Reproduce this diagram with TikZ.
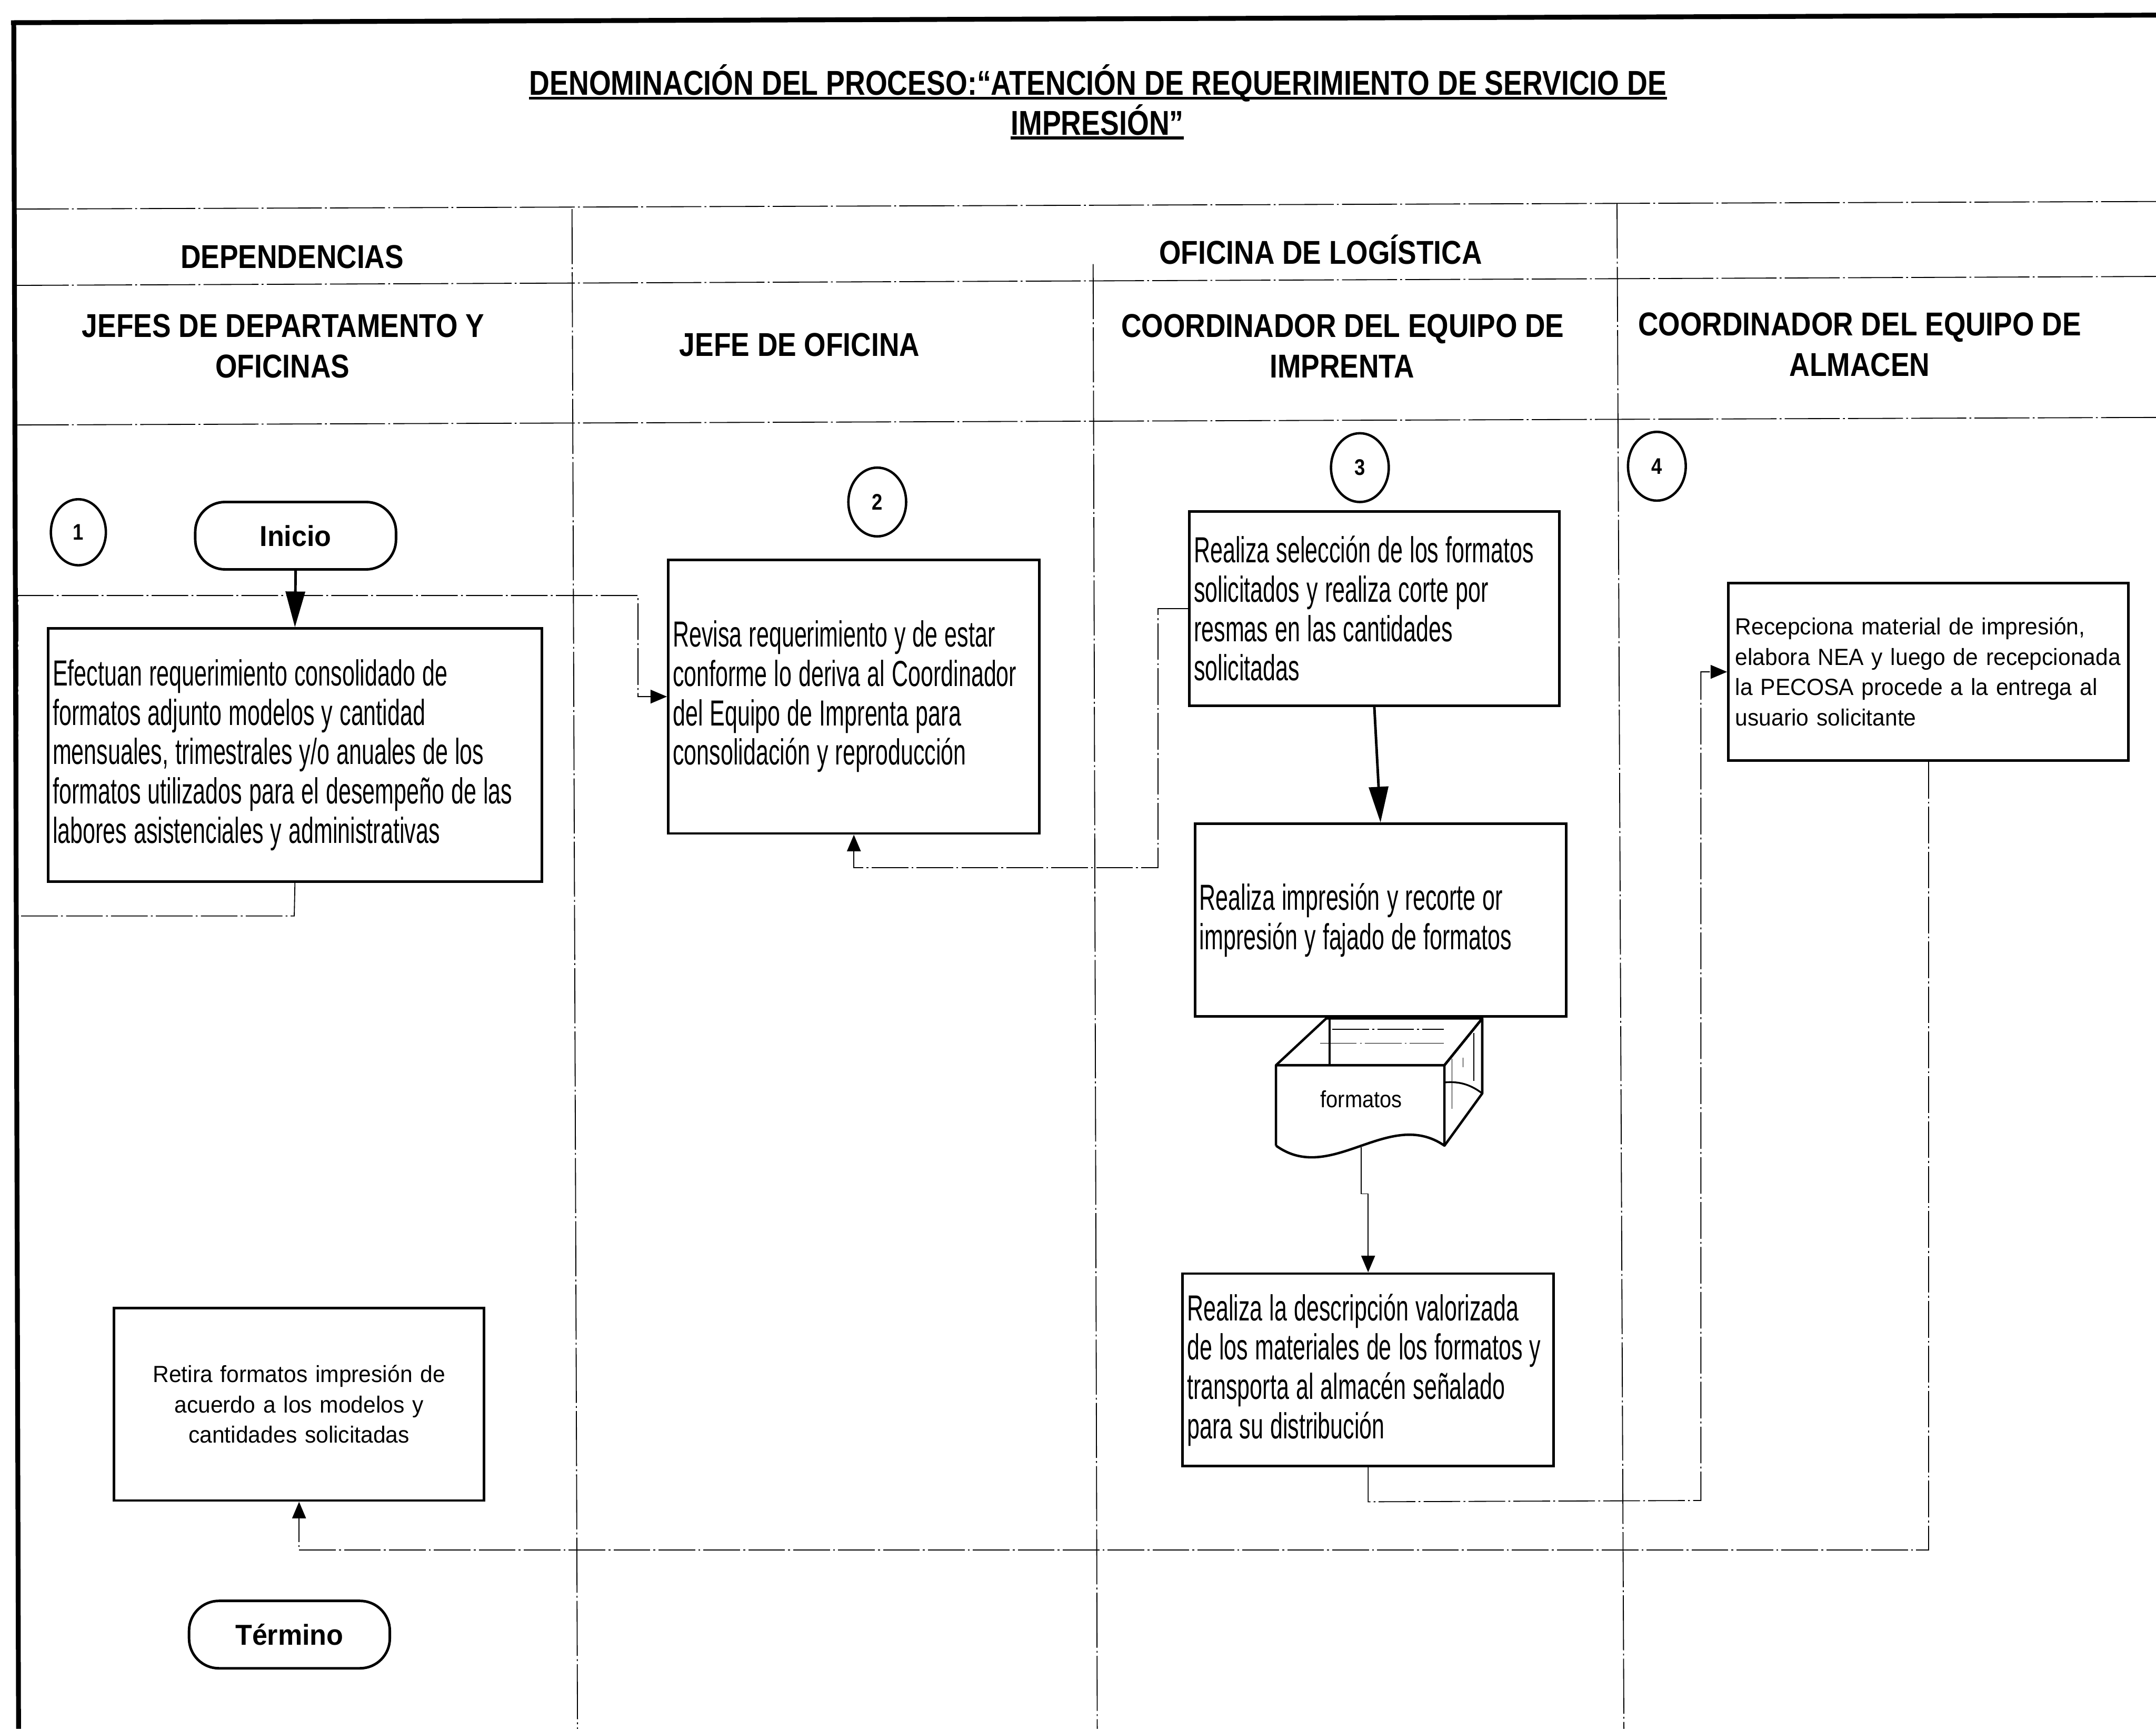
\documentclass[tikz,border=0pt]{standalone}
\usepackage{fontspec}
\setmainfont{Liberation Sans}
\newfontfamily\bodyfont{Liberation Sans}[FakeStretch=0.625]
\newfontfamily\hdrfont{Liberation Sans}[FakeStretch=0.85]
\newfontfamily\ttlfont{Liberation Sans}[FakeStretch=0.82]
\newfontfamily\termfont{Liberation Sans}[FakeStretch=0.95]
\newfontfamily\smallfont{Liberation Sans}[FakeStretch=0.96]
\newfontfamily\docfont{Liberation Sans}[FakeStretch=0.9]
\usetikzlibrary{arrows.meta,shapes.geometric}

\begin{document}
\begin{tikzpicture}[x=0.3mm,y=-0.3mm,
  lane/.style={line width=0.6pt,dash pattern=on 12mm off 0.7mm on 0.4mm off 0.7mm},
  conn/.style={line width=0.6pt,dash pattern=on 8mm off 0.7mm on 0.4mm off 0.7mm},
  thinarrow/.style={conn,-{Triangle[length=3.6mm,width=3mm]}},
  thickarrow/.style={line width=1.6pt,-{Triangle[length=7.8mm,width=4.2mm]}},
  proc/.style={draw,line width=1.6pt,fill=white,inner xsep=1mm,inner ysep=0pt,
    align=left,font=\bodyfont\fontsize{22.5}{24.4}\selectfont,
    execute at begin node={\hyphenpenalty=10000\exhyphenpenalty=10000\spaceskip=4.3pt plus 0.5pt minus 0.5pt\relax}},
  procsmall/.style={draw,line width=1.6pt,fill=white,inner xsep=1.5mm,inner ysep=0pt,
    align=left,font=\smallfont\fontsize{14.5}{18.8}\selectfont,
    execute at begin node={\hyphenpenalty=10000\exhyphenpenalty=10000}},
  hdr/.style={anchor=base,inner sep=0pt,font=\hdrfont\bfseries\fontsize{20.5}{24}\selectfont},
  ttl/.style={anchor=base,inner sep=0pt,font=\ttlfont\bfseries\fontsize{21.4}{25}\selectfont},
  terminal/.style={draw,line width=1.6pt,rounded corners=6.5mm,minimum width=43.8mm,
    minimum height=14.7mm,inner sep=0pt,font=\termfont\bfseries\fontsize{17.9}{20}\selectfont},
  stepnum/.style={draw,ellipse,line width=1.5pt,inner sep=0pt,minimum width=12.6mm,
    minimum height=15mm,font=\hdrfont\bfseries\fontsize{14}{16}\selectfont}
]
% page
\fill[white] (0,0) rectangle (1568,1257);
\useasboundingbox (0,0) rectangle (1568,1257);

% outer frame
\draw[line width=3pt] (8,16.5) -- (1568,11);
\draw[line width=3pt] (10,15) -- (13.5,1257);

% title
\node[ttl] (t1) at (798.5,69) {DENOMINACIÓN DEL PROCESO:“ATENCIÓN DE REQUERIMIENTO DE SERVICIO DE};
\node[ttl] (t2) at (798,98) {IMPRESIÓN”};
\draw[line width=1.8pt] ([yshift=-2pt]t1.base west) -- ([yshift=-2pt]t1.base east);
\draw[line width=1.8pt] ([yshift=-2pt]t2.base west) -- ([yshift=-2pt]t2.base east);

% swimlane grid
\draw[lane] (10,152) -- (1568,146.5);
\draw[lane] (10,207.5) -- (1568,201);
\draw[lane] (10,309) -- (1568,303.5);
\draw[lane] (416,152) -- (420,1257);
\draw[lane] (795,192) -- (798,1257);
\draw[lane] (1176,148) -- (1181,1257);

% lane headers
\node[hdr] (hdep) at (212.5,195) {DEPENDENCIAS};
\node[hdr] (hlog) at (960.5,192) {OFICINA DE LOGÍSTICA};
\node[hdr] (hjd1) at (206,245) {JEFES DE DEPARTAMENTO Y};
\node[hdr] (hjd2) at (205.5,274.5) {OFICINAS};
\node[hdr] (hjo) at (581.5,259) {JEFE DE OFICINA};
\node[hdr] (hci1) at (976.5,245) {COORDINADOR DEL EQUIPO DE};
\node[hdr] (hci2) at (976,274.5) {IMPRENTA};
\node[hdr] (hca1) at (1352.5,244) {COORDINADOR DEL EQUIPO DE};
\node[hdr] (hca2) at (1352.5,273.5) {ALMACEN};

% step numbers
\node[stepnum,minimum width=12mm,minimum height=14.4mm] (n1) at (57,387) {1};
\node[stepnum] (n2) at (638,365) {2};
\node[stepnum] (n3) at (989,340) {3};
\node[stepnum] (n4) at (1205,339) {4};

% terminals
\node[terminal] (ini) at (215,389.5) {Inicio};
\node[terminal] (fin) at (210.5,1188.5) {Término};

% process boxes
\node[proc,minimum width=107.7mm,minimum height=55.2mm,text width=105.7mm] (b1) at (214.5,549)
  {Efectuan requerimiento consolidado de\\formatos adjunto modelos y cantidad\\mensuales, trimestrales y/o anuales de los\\formatos utilizados para el desempeño de las\\labores asistenciales y administrativas};
\node[proc,minimum width=81mm,minimum height=59.7mm,text width=79mm] (b2) at (621,506.5)
  {Revisa requerimiento y de estar\\conforme lo deriva al Coordinador\\del Equipo de Imprenta para\\consolidación y reproducción};
\node[proc,minimum width=80.7mm,minimum height=42.3mm,text width=78.7mm] (b3) at (999.5,442.5)
  {Realiza selección de los formatos\\solicitados y realiza corte por\\resmas en las cantidades\\solicitadas};
\node[proc,minimum width=81mm,minimum height=42mm,text width=79mm] (b4) at (1004,669)
  {Realiza impresión y recorte or\\impresión y fajado de formatos};
\node[proc,minimum width=81mm,minimum height=42mm,text width=79mm] (b5) at (995,996)
  {Realiza la descripción valorizada\\de los materiales de los formatos y\\transporta al almacén señalado\\para su distribución};
\node[procsmall,minimum width=87.3mm,minimum height=38.7mm,text width=84.3mm] (b6) at (1402.5,488.5)
  {Recepciona material de impresión,\\elabora NEA y luego de recepcionada\\la PECOSA procede a la entrega al\\usuario solicitante};
\node[procsmall,align=center,minimum width=80.7mm,minimum height=42mm,text width=77.7mm] (b7) at (217.5,1021)
  {Retira formatos impresión de\\acuerdo a los modelos y\\cantidades solicitadas};

% printed forms (stacked document)
\begin{scope}[line width=1.5pt,line join=round]
  \fill[white] (928,833) -- (928,774.5) -- (964.5,740.5) -- (1078,740.5) -- (1078,795)
    -- (1050.5,833) .. controls (1010,805) and (968,862) .. (928,833) -- cycle;
  \draw (928,774.5) -- (964.5,740.5) -- (1078,740.5) -- (1050.5,774.5);
  \draw (1050.5,774.5) -- (1078,740.5) -- (1078,795) -- (1050.5,833);
  \draw (928,833) -- (928,774.5) -- (1050.5,774.5) -- (1050.5,833)
    .. controls (1010,805) and (968,862) .. (928,833);
  \draw[line width=1.2pt] (967,740.5) -- (967,774.5);
  \draw[line width=1.1pt] (1050.5,787) .. controls (1062,786) and (1070,789) .. (1078,795);
  \draw[line width=0.6pt] (1056,770) -- (1056,806);
  \draw[line width=0.6pt] (1072,751) -- (1072,786);
  \draw[line width=0.6pt] (1064,769) -- (1064,776);
  \draw[conn] (969,748.5) -- (1050,748.5);
  \draw[conn] (960,758.5) -- (1050,758.5);
\end{scope}
\node[inner sep=0pt,font=\docfont\fontsize{14.5}{16}\selectfont] (doc) at (990,799) {formatos};
\coordinate (docb) at (990,834);

% flow
\draw[thickarrow] (ini.south) -- (b1.north);
\draw[thickarrow] (b3.south) -- (b4.north);
\draw[thinarrow] (b1.south) -- (214,666) -- (13,666) -- (13,433) -- (464,433) |- (b2.west);
\draw[thinarrow] (b3.west) -- ++(-22,0) -- ++(0,188.5) -| (b2.south);
\draw[line width=0.6pt,-{Triangle[length=3.6mm,width=3mm]}] (docb) -- (990,868) -- (995,868) -- (b5.north);
\draw[thinarrow] (b5.south) -- ++(0,25) -- (1237,1091) |- (b6.west);
\draw[thinarrow] (b6.south) -- (1402.5,1127) -| (b7.south);
\end{tikzpicture}
\end{document}
